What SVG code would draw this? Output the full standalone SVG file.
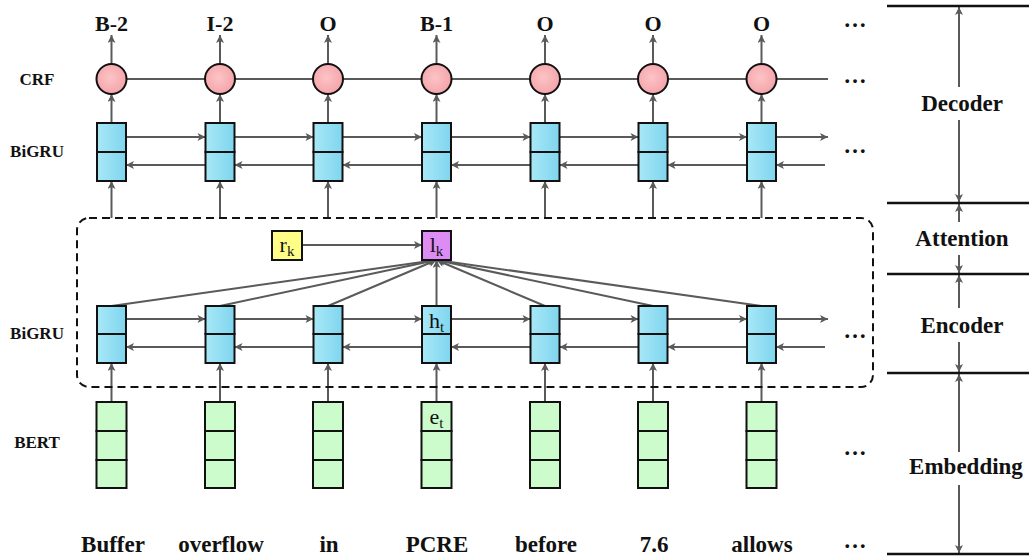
<svg xmlns="http://www.w3.org/2000/svg" width="1029" height="560" viewBox="0 0 1029 560">
<defs>
<marker id="ah" viewBox="0 0 10 10" refX="10" refY="5" markerWidth="10" markerHeight="8" markerUnits="userSpaceOnUse" orient="auto">
<path d="M0,0 L10,5 L0,10 L2.5,5 z" fill="#5a5a5a"/>
</marker>
<linearGradient id="gb" x1="0" y1="0" x2="1" y2="0">
<stop offset="0" stop-color="#a8e8f7"/>
<stop offset="1" stop-color="#7fd5ee"/>
</linearGradient>
<radialGradient id="gp" cx="0.45" cy="0.45" r="0.6">
<stop offset="0" stop-color="#fcc4c6"/>
<stop offset="1" stop-color="#f4a2a8"/>
</radialGradient>
</defs>
<style>
.lbl{font-family:"Liberation Serif","Times New Roman",serif;font-weight:bold;fill:#111}
.big{font-size:22px}
.side{font-size:17px}
.word{font-size:23px}
.sec{font-size:23px}
.sym{font-family:"Liberation Serif","Times New Roman",serif;font-size:22px;fill:#111}
.sub{font-size:15px}
.con{stroke:#5a5a5a;stroke-width:2;fill:none}
.arr{stroke:#5a5a5a;stroke-width:2;fill:none;marker-end:url(#ah)}
.blue{fill:url(#gb);stroke:#111;stroke-width:2}
.green{fill:#ccfccc;stroke:#111;stroke-width:2}
.crf{fill:url(#gp);stroke:#111;stroke-width:2}
.div{stroke:#111;stroke-width:2.5}
.dash{fill:none;stroke:#111;stroke-width:2;stroke-dasharray:8,5}
</style>
<rect width="1029" height="560" fill="#fff"/>

<g id="connectors">
<line class="con" x1="111.5" y1="79" x2="828" y2="79"/>
<line class="arr" x1="111.5" y1="64" x2="111.5" y2="35"/>
<line class="arr" x1="220" y1="64" x2="220" y2="35"/>
<line class="arr" x1="328" y1="64" x2="328" y2="35"/>
<line class="arr" x1="436.5" y1="64" x2="436.5" y2="35"/>
<line class="arr" x1="545" y1="64" x2="545" y2="35"/>
<line class="arr" x1="653" y1="64" x2="653" y2="35"/>
<line class="arr" x1="761.5" y1="64" x2="761.5" y2="35"/>
<line class="arr" x1="111.5" y1="123" x2="111.5" y2="94"/>
<line class="arr" x1="220" y1="123" x2="220" y2="94"/>
<line class="arr" x1="328" y1="123" x2="328" y2="94"/>
<line class="arr" x1="436.5" y1="123" x2="436.5" y2="94"/>
<line class="arr" x1="545" y1="123" x2="545" y2="94"/>
<line class="arr" x1="653" y1="123" x2="653" y2="94"/>
<line class="arr" x1="761.5" y1="123" x2="761.5" y2="94"/>
<line class="arr" x1="126" y1="137" x2="205.5" y2="137"/>
<line class="arr" x1="234.5" y1="137" x2="313.5" y2="137"/>
<line class="arr" x1="342.5" y1="137" x2="422" y2="137"/>
<line class="arr" x1="451" y1="137" x2="530.5" y2="137"/>
<line class="arr" x1="559.5" y1="137" x2="638.5" y2="137"/>
<line class="arr" x1="667.5" y1="137" x2="747" y2="137"/>
<line class="arr" x1="776" y1="137" x2="828" y2="137"/>
<line class="arr" x1="205.5" y1="165" x2="126" y2="165"/>
<line class="arr" x1="313.5" y1="165" x2="234.5" y2="165"/>
<line class="arr" x1="422" y1="165" x2="342.5" y2="165"/>
<line class="arr" x1="530.5" y1="165" x2="451" y2="165"/>
<line class="arr" x1="638.5" y1="165" x2="559.5" y2="165"/>
<line class="arr" x1="747" y1="165" x2="667.5" y2="165"/>
<line class="arr" x1="825" y1="165" x2="776" y2="165"/>
<line class="arr" x1="111.5" y1="218" x2="111.5" y2="181"/>
<line class="arr" x1="220" y1="218" x2="220" y2="181"/>
<line class="arr" x1="328" y1="218" x2="328" y2="181"/>
<line class="arr" x1="436.5" y1="218" x2="436.5" y2="181"/>
<line class="arr" x1="545" y1="218" x2="545" y2="181"/>
<line class="arr" x1="653" y1="218" x2="653" y2="181"/>
<line class="arr" x1="761.5" y1="218" x2="761.5" y2="181"/>
<line class="arr" x1="302" y1="245" x2="422" y2="245"/>
<line class="arr" x1="111.5" y1="306" x2="436.5" y2="260"/>
<line class="arr" x1="220" y1="306" x2="436.5" y2="260"/>
<line class="arr" x1="328" y1="306" x2="436.5" y2="260"/>
<line class="arr" x1="436.5" y1="306" x2="436.5" y2="260"/>
<line class="arr" x1="545" y1="306" x2="436.5" y2="260"/>
<line class="arr" x1="653" y1="306" x2="436.5" y2="260"/>
<line class="arr" x1="761.5" y1="306" x2="436.5" y2="260"/>
<line class="arr" x1="126" y1="319" x2="205.5" y2="319"/>
<line class="arr" x1="234.5" y1="319" x2="313.5" y2="319"/>
<line class="arr" x1="342.5" y1="319" x2="422" y2="319"/>
<line class="arr" x1="451" y1="319" x2="530.5" y2="319"/>
<line class="arr" x1="559.5" y1="319" x2="638.5" y2="319"/>
<line class="arr" x1="667.5" y1="319" x2="747" y2="319"/>
<line class="arr" x1="776" y1="319" x2="828" y2="319"/>
<line class="arr" x1="205.5" y1="347" x2="126" y2="347"/>
<line class="arr" x1="313.5" y1="347" x2="234.5" y2="347"/>
<line class="arr" x1="422" y1="347" x2="342.5" y2="347"/>
<line class="arr" x1="530.5" y1="347" x2="451" y2="347"/>
<line class="arr" x1="638.5" y1="347" x2="559.5" y2="347"/>
<line class="arr" x1="747" y1="347" x2="667.5" y2="347"/>
<line class="arr" x1="825" y1="347" x2="776" y2="347"/>
<line class="arr" x1="111.5" y1="402" x2="111.5" y2="363"/>
<line class="arr" x1="220" y1="402" x2="220" y2="363"/>
<line class="arr" x1="328" y1="402" x2="328" y2="363"/>
<line class="arr" x1="436.5" y1="402" x2="436.5" y2="363"/>
<line class="arr" x1="545" y1="402" x2="545" y2="363"/>
<line class="arr" x1="653" y1="402" x2="653" y2="363"/>
<line class="arr" x1="761.5" y1="402" x2="761.5" y2="363"/>
<line class="arr" x1="959" y1="87" x2="959" y2="7"/>
<line class="arr" x1="959" y1="120" x2="959" y2="202"/>
<line class="arr" x1="959" y1="222" x2="959" y2="204"/>
<line class="arr" x1="959" y1="255" x2="959" y2="273"/>
<line class="arr" x1="959" y1="308" x2="959" y2="275"/>
<line class="arr" x1="959" y1="342" x2="959" y2="372"/>
<line class="arr" x1="959" y1="452" x2="959" y2="374"/>
<line class="arr" x1="959" y1="485" x2="959" y2="553"/>
</g>

<g id="attention-box">
<rect class="dash" x="77" y="218" width="796" height="169" rx="12" ry="12"/>
</g>

<g id="crf-nodes">
<circle class="crf" cx="111.5" cy="79" r="15"/>
<circle class="crf" cx="220" cy="79" r="15"/>
<circle class="crf" cx="328" cy="79" r="15"/>
<circle class="crf" cx="436.5" cy="79" r="15"/>
<circle class="crf" cx="545" cy="79" r="15"/>
<circle class="crf" cx="653" cy="79" r="15"/>
<circle class="crf" cx="761.5" cy="79" r="15"/>
</g>

<g id="decoder-bigru">
<rect class="blue" x="97" y="123" width="29" height="29"/><rect class="blue" x="97" y="152" width="29" height="29"/>
<rect class="blue" x="205.5" y="123" width="29" height="29"/><rect class="blue" x="205.5" y="152" width="29" height="29"/>
<rect class="blue" x="313.5" y="123" width="29" height="29"/><rect class="blue" x="313.5" y="152" width="29" height="29"/>
<rect class="blue" x="422" y="123" width="29" height="29"/><rect class="blue" x="422" y="152" width="29" height="29"/>
<rect class="blue" x="530.5" y="123" width="29" height="29"/><rect class="blue" x="530.5" y="152" width="29" height="29"/>
<rect class="blue" x="638.5" y="123" width="29" height="29"/><rect class="blue" x="638.5" y="152" width="29" height="29"/>
<rect class="blue" x="747" y="123" width="29" height="29"/><rect class="blue" x="747" y="152" width="29" height="29"/>
</g>

<g id="rk">
<rect x="272" y="231" width="30" height="29" fill="#ffff88" stroke="#111" stroke-width="2"/>
<text class="sym" x="287" y="252" text-anchor="middle">r<tspan class="sub" dy="4">k</tspan></text>
</g>

<g id="lk">
<rect x="422" y="231" width="29" height="29" fill="#dd8cf4" stroke="#111" stroke-width="2"/>
<text class="sym" x="436.5" y="252" text-anchor="middle">l<tspan class="sub" dy="4">k</tspan></text>
</g>

<g id="encoder-bigru">
<rect class="blue" x="97" y="306" width="29" height="28"/><rect class="blue" x="97" y="334" width="29" height="29"/>
<rect class="blue" x="205.5" y="306" width="29" height="28"/><rect class="blue" x="205.5" y="334" width="29" height="29"/>
<rect class="blue" x="313.5" y="306" width="29" height="28"/><rect class="blue" x="313.5" y="334" width="29" height="29"/>
<rect class="blue" x="422" y="306" width="29" height="28"/><rect class="blue" x="422" y="334" width="29" height="29"/>
<rect class="blue" x="530.5" y="306" width="29" height="28"/><rect class="blue" x="530.5" y="334" width="29" height="29"/>
<rect class="blue" x="638.5" y="306" width="29" height="28"/><rect class="blue" x="638.5" y="334" width="29" height="29"/>
<rect class="blue" x="747" y="306" width="29" height="28"/><rect class="blue" x="747" y="334" width="29" height="29"/>
<text class="sym" x="436.5" y="328" text-anchor="middle">h<tspan class="sub" dy="4">t</tspan></text>
</g>

<g id="bert">
<rect class="green" x="96.5" y="402" width="30" height="29"/><rect class="green" x="96.5" y="431" width="30" height="29"/><rect class="green" x="96.5" y="460" width="30" height="28"/>
<rect class="green" x="205" y="402" width="30" height="29"/><rect class="green" x="205" y="431" width="30" height="29"/><rect class="green" x="205" y="460" width="30" height="28"/>
<rect class="green" x="313" y="402" width="30" height="29"/><rect class="green" x="313" y="431" width="30" height="29"/><rect class="green" x="313" y="460" width="30" height="28"/>
<rect class="green" x="421.5" y="402" width="30" height="29"/><rect class="green" x="421.5" y="431" width="30" height="29"/><rect class="green" x="421.5" y="460" width="30" height="28"/>
<rect class="green" x="530" y="402" width="30" height="29"/><rect class="green" x="530" y="431" width="30" height="29"/><rect class="green" x="530" y="460" width="30" height="28"/>
<rect class="green" x="638" y="402" width="30" height="29"/><rect class="green" x="638" y="431" width="30" height="29"/><rect class="green" x="638" y="460" width="30" height="28"/>
<rect class="green" x="746.5" y="402" width="30" height="29"/><rect class="green" x="746.5" y="431" width="30" height="29"/><rect class="green" x="746.5" y="460" width="30" height="28"/>
<text class="sym" x="436.5" y="424" text-anchor="middle">e<tspan class="sub" dy="4">t</tspan></text>
</g>

<g id="tags" class="lbl big" text-anchor="middle">
<text x="111.5" y="31">B-2</text>
<text x="220" y="31">I-2</text>
<text x="328" y="31">O</text>
<text x="436.5" y="31">B-1</text>
<text x="545" y="31">O</text>
<text x="653" y="31">O</text>
<text x="761.5" y="31">O</text>
</g>

<g id="words" class="lbl word" text-anchor="middle">
<text x="113" y="552">Buffer</text>
<text x="221" y="552">overflow</text>
<text x="329" y="552">in</text>
<text x="437" y="552">PCRE</text>
<text x="546" y="552">before</text>
<text x="654" y="552">7.6</text>
<text x="762" y="552">allows</text>
</g>

<g id="row-labels" class="lbl side" text-anchor="middle">
<text x="37" y="85">CRF</text>
<text x="37" y="157">BiGRU</text>
<text x="37" y="339">BiGRU</text>
<text x="37" y="448">BERT</text>
</g>

<g id="ellipses" class="lbl" font-size="23" text-anchor="middle">
<text x="855" y="27">…</text>
<text x="855" y="83">…</text>
<text x="855" y="153">…</text>
<text x="855" y="338">…</text>
<text x="855" y="455">…</text>
<text x="855" y="548">…</text>
</g>

<g id="sections">
<line class="div" x1="887" y1="6" x2="1029" y2="6"/>
<line class="div" x1="887" y1="203" x2="1029" y2="203"/>
<line class="div" x1="887" y1="274" x2="1029" y2="274"/>
<line class="div" x1="887" y1="373" x2="1029" y2="373"/>
<line class="div" x1="887" y1="554" x2="1029" y2="554"/>
<g class="lbl sec" text-anchor="middle">
<text x="962" y="111">Decoder</text>
<text x="962" y="246">Attention</text>
<text x="962" y="333">Encoder</text>
<text x="966" y="474">Embedding</text>
</g>
</g>
</svg>
